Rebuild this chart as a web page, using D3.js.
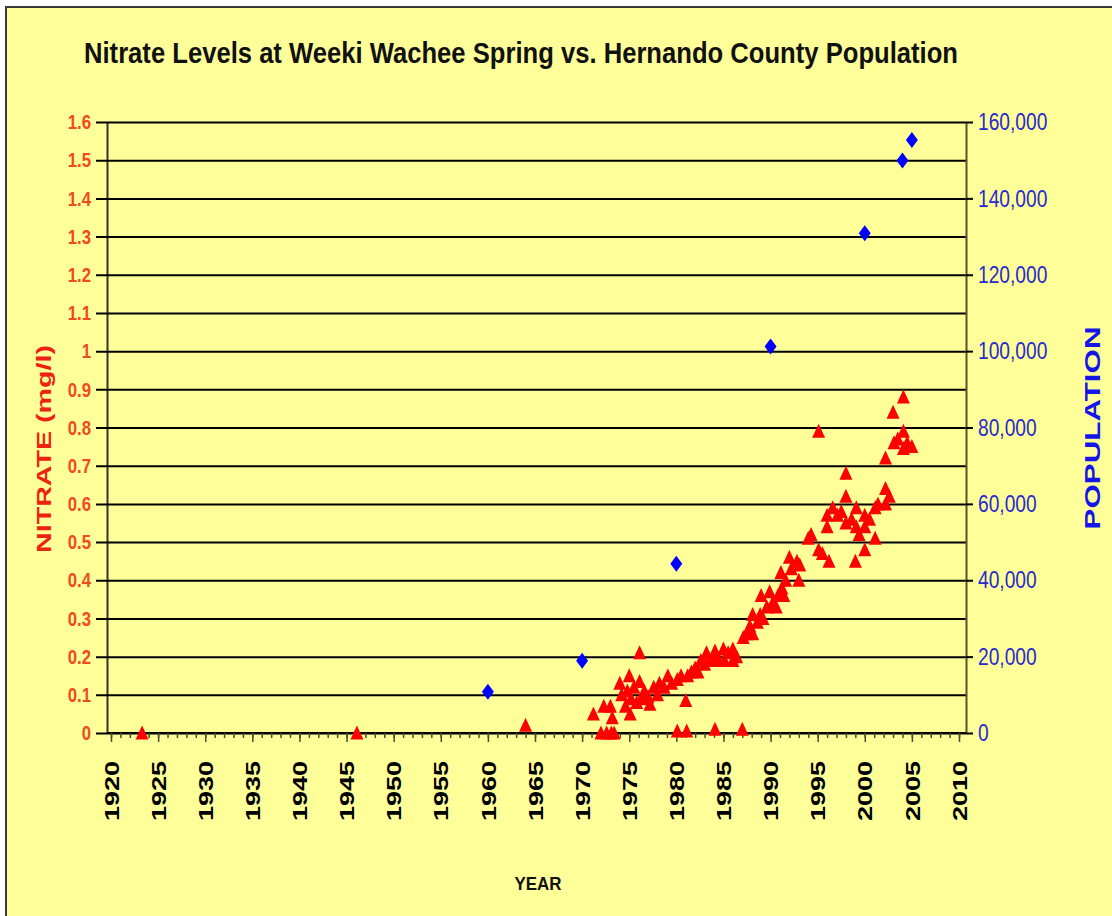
<!DOCTYPE html>
<html>
<head>
<meta charset="utf-8">
<script src="https://cdn.jsdelivr.net/npm/d3@7"></script>
<style>
  html, body { margin: 0; padding: 0; background: #fff; }
  svg { display: block; font-family: "Liberation Sans", Arial, sans-serif; }
</style>
</head>
<body>
<svg width="1112" height="916"></svg>
<script>
// nitrate samples (mg/l)
const nitrateYear = [
  1923.3, 1946.1, 1964.0,
  1971.2, 1972.0, 1972.3, 1972.6, 1973.0, 1973.1, 1973.2, 1973.4, 1974.0, 1974.2, 1974.6, 1974.8,
  1975.0, 1975.1, 1975.2, 1975.5, 1975.8, 1976.1, 1976.1, 1976.3, 1976.6, 1977.0, 1977.2, 1977.6, 1978.0, 1978.2, 1978.7, 1979.1, 1979.5,
  1980.1, 1980.1, 1980.5, 1981.0, 1981.1, 1981.2, 1981.6, 1982.0, 1982.3, 1982.6, 1983.0, 1983.2, 1983.5, 1984.0, 1984.1, 1984.1, 1984.5,
  1985.0, 1985.1, 1985.5, 1986.0, 1986.0, 1986.4, 1987.0, 1987.1, 1987.5, 1987.8, 1988.1, 1988.1, 1988.6, 1988.9, 1989.0, 1989.2, 1989.6, 1989.9,
  1990.2, 1990.6, 1990.8, 1991.1, 1991.2, 1991.4, 1991.6, 1992.0, 1992.2, 1992.8, 1993.0, 1993.1, 1994.0, 1994.3,
  1995.1, 1995.1, 1995.5, 1996.0, 1996.0, 1996.2, 1996.6, 1997.1, 1997.5, 1998.0, 1998.0, 1998.0, 1998.6, 1999.0, 1999.1, 1999.1, 1999.4,
  2000.0, 2000.0, 2000.0, 2000.5, 2001.1, 2001.1, 2001.4, 2002.2, 2002.2, 2002.2, 2002.6, 2003.0, 2003.1, 2003.5, 2004.1, 2004.1, 2004.1, 2004.5, 2005.0
];
const nitrateMgL = [
  0, 0, 0.02,
  0.05, 0, 0.07, 0, 0.07, 0, 0.04, 0, 0.13, 0.10, 0.07, 0.11,
  0.15, 0.05, 0.09, 0.12, 0.08, 0.21, 0.135, 0.09, 0.11, 0.095, 0.075, 0.12, 0.10, 0.13, 0.12, 0.15, 0.13,
  0.14, 0.005, 0.15, 0.085, 0.005, 0.15, 0.16, 0.17, 0.16, 0.19, 0.18, 0.21, 0.19, 0.20, 0.215, 0.01, 0.19,
  0.22, 0.19, 0.21, 0.19, 0.22, 0.20, 0.01, 0.25, 0.26, 0.28, 0.31, 0.26, 0.29, 0.31, 0.36, 0.30, 0.33, 0.37,
  0.34, 0.33, 0.36, 0.42, 0.38, 0.36, 0.40, 0.46, 0.43, 0.45, 0.40, 0.44, 0.51, 0.52,
  0.79, 0.48, 0.47, 0.57, 0.54, 0.45, 0.59, 0.57, 0.58, 0.68, 0.62, 0.55, 0.56, 0.45, 0.59, 0.54, 0.52,
  0.57, 0.54, 0.48, 0.56, 0.59, 0.51, 0.60, 0.72, 0.64, 0.60, 0.62, 0.84, 0.76, 0.77, 0.88, 0.79, 0.745, 0.76, 0.75
];

// county population
const popYear = [1960, 1970, 1980, 1990, 2000, 2004, 2005];
const popCount = [10800, 18900, 44300, 101200, 130900, 149900, 155300];

const nitrateTicks = d3.range(0, 17).map(i => i / 10);
const popTicks = d3.range(0, 160001, 20000);
const yearLabels = d3.range(1920, 2011, 5);
const yearMinor = d3.range(1920, 2011, 1);

const svg = d3.select("svg");

// frame
svg.append("rect")
  .attr("x", 6).attr("y", 7)
  .attr("width", 1130).attr("height", 930)
  .attr("fill", "#FFFF99")
  .attr("stroke", "#3a3a3a")
  .attr("stroke-width", 2);

const plotL = 107, plotR = 966, plotT = 122, plotB = 733;

const x = d3.scaleLinear().domain([1920, 2010]).range([111, 959]);
const yL = d3.scaleLinear().domain([0, 1.6]).range([plotB, plotT]);
const yR = d3.scaleLinear().domain([0, 160000]).range([plotB, plotT]);

// left axis + gridlines
svg.append("g")
  .attr("transform", `translate(${plotL},0)`)
  .call(d3.axisLeft(yL).tickValues(nitrateTicks)
    .tickSizeInner(-(plotR - plotL)).tickSizeOuter(0).tickPadding(0)
    .tickFormat(d => String(+d.toFixed(1))))
  .call(g => g.select(".domain").attr("stroke", "#333").attr("stroke-width", 2))
  .call(g => g.selectAll(".tick line")
    .attr("x1", -11).attr("stroke", "#000").attr("stroke-width", 2))
  .call(g => g.selectAll(".tick text")
    .attr("x", -16 / 0.8)
    .attr("transform", "scale(0.8,1)")
    .attr("fill", "#F24A1C")
    .attr("font-size", 21)
    .attr("font-weight", "bold"));

// right axis
svg.append("g")
  .attr("transform", `translate(${plotR},0)`)
  .call(d3.axisRight(yR).tickValues(popTicks)
    .tickSizeInner(7).tickSizeOuter(0).tickPadding(12)
    .tickFormat(d3.format(",")))
  .call(g => g.select(".domain").attr("stroke", "#55552a").attr("stroke-width", 2))
  .call(g => g.selectAll(".tick line").attr("stroke", "#000").attr("stroke-width", 2))
  .call(g => g.selectAll(".tick text")
    .attr("x", 12 / 0.8)
    .attr("transform", "scale(0.8,1)")
    .attr("fill", "#2A2AD0")
    .attr("font-size", 24));

// x axis: minor ticks every year, labels every 5
const xg = svg.append("g").attr("transform", `translate(0,${plotB})`);
xg.append("line")
  .attr("x1", plotL).attr("x2", plotR)
  .attr("stroke", "#000").attr("stroke-width", 2);
xg.append("g")
  .call(d3.axisBottom(x).tickValues(yearMinor).tickSize(5).tickFormat(""))
  .call(g => g.select(".domain").remove())
  .call(g => g.selectAll(".tick line").attr("stroke", "#4a4a2a").attr("stroke-width", 1.5));
xg.append("g")
  .call(d3.axisBottom(x).tickValues(yearLabels).tickSize(9).tickFormat(d3.format("d")))
  .call(g => g.select(".domain").remove())
  .call(g => g.selectAll(".tick line").attr("stroke", "#4a4a2a").attr("stroke-width", 1.5))
  .call(g => g.selectAll(".tick text")
    .attr("transform", "rotate(-90)")
    .attr("text-anchor", "end")
    .attr("x", -28).attr("y", 0).attr("dy", "0.36em")
    .attr("fill", "#000")
    .attr("font-size", 20)
    .attr("font-weight", "bold")
    .attr("textLength", 60)
    .attr("lengthAdjust", "spacingAndGlyphs"));

// nitrate triangles
svg.append("g")
  .selectAll("path")
  .data(d3.range(nitrateYear.length))
  .join("path")
  .attr("transform", i => `translate(${x(nitrateYear[i])},${yL(nitrateMgL[i])})`)
  .attr("d", "M0,-7.5L6.5,6.5L-6.5,6.5Z")
  .attr("fill", "#FF0000");

// population diamonds
svg.append("g")
  .selectAll("path")
  .data(d3.range(popYear.length))
  .join("path")
  .attr("transform", i => `translate(${x(popYear[i])},${yR(popCount[i])})`)
  .attr("d", "M0,-8L6,0L0,8L-6,0Z")
  .attr("fill", "#0000FF");

// titles
svg.append("text")
  .attr("x", 521).attr("y", 63)
  .attr("text-anchor", "middle")
  .attr("font-size", 30).attr("font-weight", "bold").attr("fill", "#111")
  .attr("textLength", 874).attr("lengthAdjust", "spacingAndGlyphs")
  .text("Nitrate Levels at Weeki Wachee Spring vs. Hernando County Population");

svg.append("text")
  .attr("transform", "translate(51,449) rotate(-90)")
  .attr("text-anchor", "middle")
  .attr("font-size", 21).attr("font-weight", "bold").attr("fill", "#EE2211")
  .attr("textLength", 208).attr("lengthAdjust", "spacingAndGlyphs")
  .text("NITRATE (mg/l)");

svg.append("text")
  .attr("transform", "translate(1100,428) rotate(-90)")
  .attr("text-anchor", "middle")
  .attr("font-size", 22).attr("font-weight", "bold").attr("fill", "#1515E8")
  .attr("textLength", 203).attr("lengthAdjust", "spacingAndGlyphs")
  .text("POPULATION");

svg.append("text")
  .attr("x", 538).attr("y", 890)
  .attr("text-anchor", "middle")
  .attr("font-size", 19).attr("font-weight", "bold").attr("fill", "#111")
  .attr("textLength", 47).attr("lengthAdjust", "spacingAndGlyphs")
  .text("YEAR");
</script>
</body>
</html>
